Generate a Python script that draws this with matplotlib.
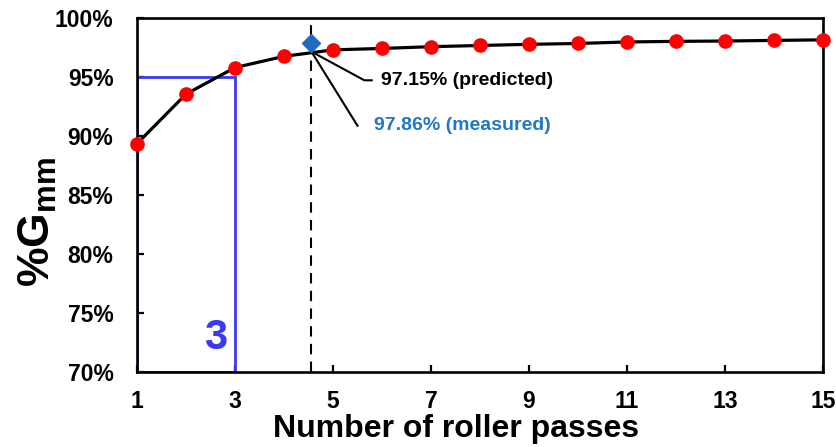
import matplotlib
matplotlib.use("Agg")
import matplotlib.pyplot as plt
from matplotlib.patches import Rectangle

plt.rcParams["font.family"] = ["Liberation Sans", "DejaVu Sans"]
plt.rcParams["font.weight"] = "bold"
plt.rcParams["mathtext.fontset"] = "custom"
plt.rcParams["mathtext.rm"] = "Liberation Sans:bold"
plt.rcParams["mathtext.bf"] = "Liberation Sans:bold"
plt.rcParams["mathtext.default"] = "bf"

# Compaction curve: %Gmm versus number of roller passes
passes = [1, 2, 3, 4, 5, 6, 7, 8, 9, 10, 11, 12, 13, 14, 15]
gmm = [89.35, 93.55, 95.8, 96.75, 97.3, 97.42, 97.57, 97.67, 97.77,
       97.84, 97.97, 98.02, 98.05, 98.1, 98.15]

# Target passes and the two density values at that point
target_passes = 4.56
predicted = 97.15
measured = 97.86

# Highlighted range of passes
box_passes = [1, 3]
box_gmm = [70, 95]
box_label = "3"

y_ticks = [70, 75, 80, 85, 90, 95, 100]
x_ticks = [1, 3, 5, 7, 9, 11, 13, 15]

fig = plt.figure(figsize=(8.37, 4.47), dpi=100)
ax = fig.add_axes([137 / 837, 1 - 372 / 447, 686 / 837, 354 / 447])

ax.set_xlim(1, 15)
ax.set_ylim(70, 100)

blue_box = "#3A3AF2"
ax.add_patch(Rectangle((box_passes[0], box_gmm[0]),
                       box_passes[1] - box_passes[0], box_gmm[1] - box_gmm[0],
                       fill=False, edgecolor=blue_box, linewidth=2.0, zorder=2))
ax.text(2.6, 72.85, box_label, color=blue_box, fontsize=30, fontweight="bold",
        ha="center", va="center", zorder=3)

ax.axvline(target_passes, color="black", linestyle=(0, (5, 3.5)), linewidth=1.5, zorder=1)

ax.plot(passes, gmm, color="black", linewidth=2.3, zorder=3)
ax.plot(passes, gmm, linestyle="none", marker="o", markersize=9.5,
        markerfacecolor="#FF0000", markeredgecolor="#FF0000", zorder=4, clip_on=False)

# Leader lines and annotations
ax.plot([target_passes, 5.64, 5.79], [predicted, 94.72, 94.72],
        color="black", linewidth=1.5, zorder=3)
ax.plot([target_passes, 5.50], [predicted, 90.87],
        color="black", linewidth=1.5, zorder=3)
ax.text(5.98, 94.68, f"{predicted:.2f}% (predicted)", fontsize=14,
        fontweight="bold", color="black", ha="left", va="center")
ax.text(5.83, 90.85, f"{measured:.2f}% (measured)", fontsize=14,
        fontweight="bold", color="#1F78C8", ha="left", va="center")

ax.plot([target_passes], [measured], linestyle="none", marker="D", markersize=9,
        markerfacecolor="#1F6BBF", markeredgecolor="#1F6BBF", zorder=5, clip_on=False)

ax.set_yticks(y_ticks)
ax.set_yticklabels([f"{v}%" for v in y_ticks])
ax.set_xticks(x_ticks)
ax.set_xticklabels([str(v) for v in x_ticks])
ax.tick_params(direction="in", length=5, width=1.6, labelsize=16.5, colors="black")
ax.tick_params(axis="y", pad=17)
ax.tick_params(axis="x", pad=13)
for lbl in ax.get_xticklabels() + ax.get_yticklabels():
    lbl.set_fontweight("bold")

for s in ax.spines.values():
    s.set_linewidth(1.9)
    s.set_color("black")

ax.set_xlabel("Number of roller passes", fontsize=23, fontweight="bold")
ax.xaxis.set_label_coords((456 - 137) / 686, -0.118)
fig.text(38 / 837, 1 - 222 / 447, r"%G$_{mm}$", fontsize=32, fontweight="bold",
         rotation=90, ha="center", va="center")

fig.savefig("out.png", dpi=100)
